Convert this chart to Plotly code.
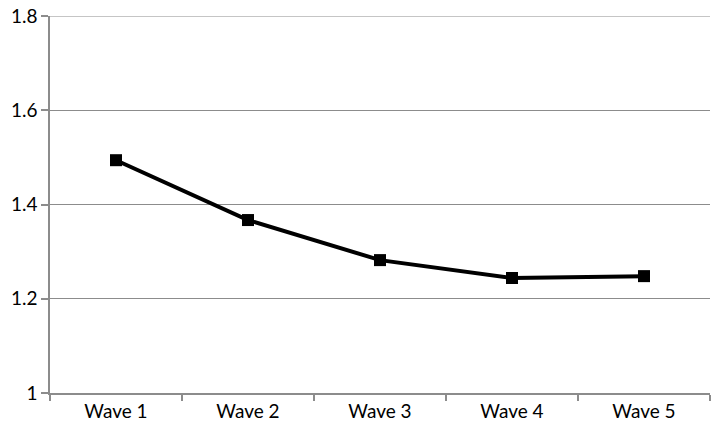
import plotly.graph_objects as go

waves = ["Wave 1", "Wave 2", "Wave 3", "Wave 4", "Wave 5"]
values = [1.494, 1.367, 1.282, 1.244, 1.248]
y_ticks = [1, 1.2, 1.4, 1.6, 1.8]
y_labels = ["1", "1.2", "1.4", "1.6", "1.8"]

GRID = "#8c8c8c"

fig = go.Figure()

fig.add_trace(
    go.Scatter(
        x=waves,
        y=values,
        mode="lines+markers",
        line=dict(color="black", width=4),
        marker=dict(symbol="square", size=12, color="black"),
        showlegend=False,
    )
)

# top gridline sits on the range edge, plotly drops it there
fig.add_shape(
    type="line", xref="paper", yref="y",
    x0=0, x1=1, y0=y_ticks[-1], y1=y_ticks[-1],
    line=dict(color=GRID, width=1.2), layer="below",
)

fig.update_layout(
    width=718,
    height=434,
    margin=dict(l=50, r=8, t=16, b=41),
    paper_bgcolor="white",
    plot_bgcolor="white",
    font=dict(family="Lato, Liberation Sans, sans-serif", size=19, color="black"),
    xaxis=dict(
        type="category",
        range=[-0.5, 4.5],
        automargin=False,
        showgrid=False,
        showline=True,
        linecolor=GRID,
        linewidth=1.5,
        ticks="outside",
        tickson="boundaries",
        ticklen=6,
        tickcolor=GRID,
        tickwidth=1.5,
        tickfont=dict(size=19),
        fixedrange=True,
    ),
    yaxis=dict(
        range=[1, 1.8],
        tickvals=y_ticks,
        ticktext=y_labels,
        ticklabeloverflow="allow",
        automargin=False,
        showgrid=True,
        gridcolor=GRID,
        gridwidth=1.2,
        showline=True,
        linecolor=GRID,
        linewidth=1.5,
        ticks="outside",
        ticklen=7,
        tickcolor=GRID,
        tickwidth=1.5,
        tickfont=dict(size=19),
        zeroline=False,
        fixedrange=True,
    ),
)

# drop the default 8px body margin so the figure fills the window
fig.write_html(
    "out.html",
    config={"displayModeBar": False},
    post_script="document.body.style.margin='0';",
)
